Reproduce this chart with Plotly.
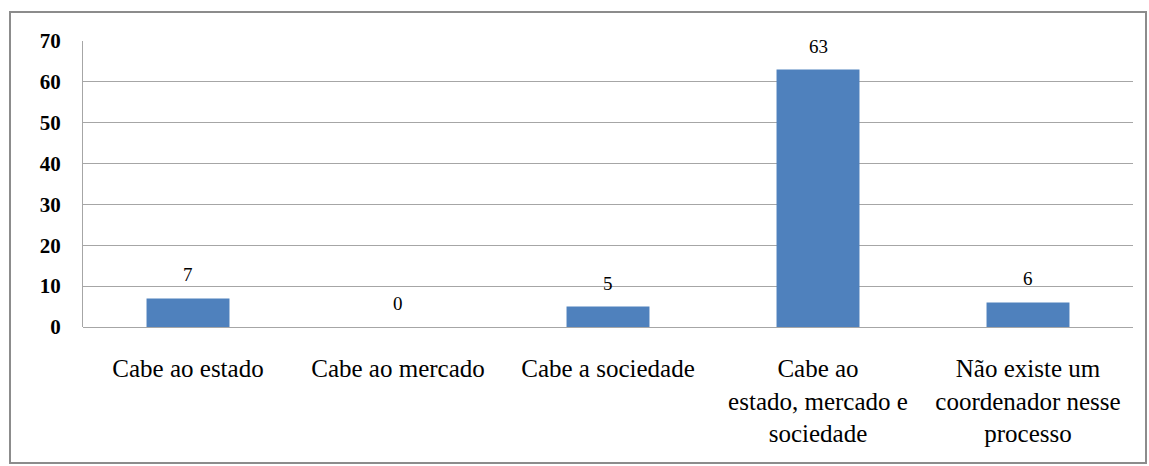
import plotly.graph_objects as go

categories = [
    "Cabe ao estado",
    "Cabe ao mercado",
    "Cabe a sociedade",
    "Cabe ao<br>estado, mercado e<br>sociedade",
    "Não existe um<br>coordenador nesse<br>processo",
]
values = [7, 0, 5, 63, 6]
y_ticks = [0, 10, 20, 30, 40, 50, 60, 70]

W, H = 1149, 466
L, R, T, B = 83, 16, 41, 139
pw, ph = W - L - R, H - T - B

serif = "'Times New Roman', 'Liberation Serif', serif"

fig = go.Figure(
    go.Bar(
        x=categories,
        y=values,
        marker=dict(color="#4F81BD", line=dict(width=0)),
        width=0.395,
        hoverinfo="skip",
    )
)

# value labels above each bar
for c, v in zip(categories, values):
    fig.add_annotation(
        x=c, y=v, text=str(v), showarrow=False,
        yanchor="bottom", yshift=11,
        font=dict(family=serif, size=19, color="#000000"),
    )

# outer chart frame
fig.add_shape(
    type="rect", xref="paper", yref="paper",
    x0=(10 - L) / pw, x1=(1146 - L) / pw,
    y0=(H - B - 463) / ph, y1=(H - B - 12) / ph,
    line=dict(color="#8C8C8C", width=2), fillcolor="rgba(0,0,0,0)", layer="below",
)

fig.update_layout(
    width=W, height=H,
    margin=dict(l=L, r=R, t=T, b=B),
    paper_bgcolor="#FFFFFF",
    plot_bgcolor="#FFFFFF",
    showlegend=False,
    font=dict(family=serif),
)

fig.update_xaxes(
    showgrid=False,
    showline=False,
    ticks="",
    tickfont=dict(family=serif, size=25, color="#000000", weight="normal"),
    ticklabelstandoff=24,
    tickangle=0,
)

fig.update_yaxes(
    range=[0, 70],
    tickvals=y_ticks,
    showgrid=True, gridcolor="#A6A6A6", gridwidth=1,
    zeroline=True, zerolinecolor="#A6A6A6", zerolinewidth=1,
    showline=True, linecolor="#A6A6A6", linewidth=1,
    ticks="",
    tickfont=dict(family=serif, size=21, color="#000000", weight="bold"),
    ticklabelstandoff=17,
)

fig.write_html("out.html")
